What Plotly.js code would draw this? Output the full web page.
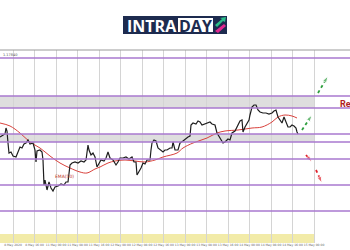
<!DOCTYPE html>
<html><head><meta charset="utf-8">
<script src="https://cdn.plot.ly/plotly-3.0.1.min.js"></script>
<style>html,body{margin:0;padding:0;background:#fff;}#chart{width:350px;height:250px;}</style>
</head><body><div id="chart"></div>
<script>
// time index (hourly bars) and EURUSD-style closes
const barIndex = [0,3,5,6,7,8,9,11,13,16,18,20,22,24,26,28,30,33,35,36,37,40,42,43,44,45,47,49,51,53,55,58,61,64,66,68,70,72,75,78,81,84,86,88,89,91,93,95,97,99,101,104,106,108,110,113,116,118,120,123,126,129,132,134,136,137,139,141,143,145,147,150,151,152,154,156,158,160,163,165,167,170,172,173,175,178,180,183,186,188,190,191,193,196,198,200,202,205,208,210,212,215,217,219,221,223,225,228,230,232,235,238,240,242,243,245,247,249,250,252,254,256,258,260,263,266,269,272,274,276,278,280,282,284,286,288,290,292,294,296,297,298];
const closePrice = [1.1626,1.1630,1.1632,1.1644,1.1638,1.1614,1.1594,1.1596,1.1588,1.1586,1.1596,1.1606,1.1604,1.1612,1.1614,1.1620,1.1612,1.1614,1.1600,1.1576,1.1598,1.1600,1.1596,1.1580,1.1530,1.1540,1.1520,1.1536,1.1524,1.1518,1.1526,1.1528,1.1532,1.1530,1.1536,1.1536,1.1570,1.1574,1.1576,1.1574,1.1578,1.1576,1.1580,1.1610,1.1600,1.1590,1.1594,1.1586,1.1566,1.1574,1.1580,1.1578,1.1584,1.1596,1.1584,1.1580,1.1570,1.1576,1.1584,1.1584,1.1586,1.1582,1.1586,1.1576,1.1576,1.1550,1.1556,1.1564,1.1574,1.1572,1.1580,1.1580,1.1600,1.1614,1.1620,1.1618,1.1604,1.1600,1.1596,1.1600,1.1600,1.1604,1.1604,1.1616,1.1600,1.1600,1.1614,1.1618,1.1624,1.1626,1.1628,1.1650,1.1654,1.1652,1.1658,1.1656,1.1650,1.1652,1.1654,1.1656,1.1652,1.1650,1.1634,1.1628,1.1620,1.1614,1.1616,1.1622,1.1620,1.1634,1.1638,1.1650,1.1658,1.1660,1.1636,1.1646,1.1652,1.1660,1.1670,1.1686,1.1690,1.1690,1.1680,1.1676,1.1674,1.1674,1.1672,1.1674,1.1678,1.1680,1.1666,1.1660,1.1654,1.1666,1.1654,1.1646,1.1646,1.1650,1.1648,1.1644,1.1636,1.1632];
const emaIndex = [0,10,20,30,40,50,60,70,80,87,95,100,108,115,125,135,145,155,163,177,183,193,207,217,225,238,252,262,272,278,285,292,297];
const emaValue = [1.1654,1.1648,1.1634,1.1616,1.1604,1.1588,1.1574,1.1564,1.1556,1.1554,1.1562,1.1566,1.1574,1.1578,1.1580,1.1578,1.1576,1.1580,1.1586,1.1594,1.1604,1.1614,1.1624,1.1634,1.1638,1.1640,1.1644,1.1646,1.1656,1.1666,1.1670,1.1668,1.1664];
// horizontal levels
const levelLines = [1.1784,1.1708,1.1684,1.1632,1.1616,1.1582,1.1530,1.1478];
const greyZones = [[1.1684,1.1708],[1.1616,1.1632]];
const yellowZone = [1.1414,1.1432];
const gridTimes = [13,34.5,56,77.5,99,120.5,142,163.5,185,206.5,228,249.5,271,292.5,314];
const timeLabels = ['8 May 2020','8 May 16:00','11 May 00:00','11 May 08:00','11 May 16:00','12 May 00:00','12 May 08:00','12 May 16:00','13 May 00:00','13 May 08:00','13 May 16:00','14 May 00:00','14 May 08:00','14 May 16:00','15 May 00:00'];
// projected scenario arrows [x0,y0,x1,y1]
const bullArrows = [[302,1.1640,312,1.1670],[318,1.1714,328,1.1748]];
const bearArrows = [[306,1.1590,312,1.1576],[316,1.1560,322,1.1534]];

const traces = [];
traces.push({x:emaIndex,y:emaValue,mode:'lines',line:{color:'#d9413c',width:1,shape:'spline'},hoverinfo:'skip'});
traces.push({x:barIndex,y:closePrice,mode:'lines',line:{color:'#1e1e1e',width:1.2},hoverinfo:'skip'});
function arrowTrace(a,color){
  return {x:[a[0],a[2]],y:[a[1],a[3]],mode:'lines+markers',line:{color:color,width:1.8,dash:'dot'},
    marker:{symbol:'arrow',angleref:'previous',size:[0,7],color:color},hoverinfo:'skip'};
}
bullArrows.forEach(a=>traces.push(arrowTrace(a,'#2e9e3e')));
bearArrows.forEach(a=>traces.push(arrowTrace(a,'#e0202a')));

const shapes = [];
greyZones.forEach(z=>shapes.push({type:'rect',xref:'x',yref:'y',x0:0,x1:314,y0:z[0],y1:z[1],fillcolor:'#dedede',line:{width:0},layer:'below'}));
shapes.push({type:'rect',xref:'x',yref:'y',x0:0,x1:314,y0:yellowZone[0],y1:yellowZone[1],fillcolor:'#f2eba8',line:{width:0},layer:'below'});
levelLines.forEach(v=>shapes.push({type:'line',xref:'paper',yref:'y',x0:0,x1:1,y0:v,y1:v,line:{color:'#a878cf',width:1.4}}));
shapes.push({type:'line',xref:'paper',yref:'paper',x0:0,x1:1,y0:1,y1:1,line:{color:'#9a9a9a',width:1}});
// logo
const px=v=>v/350, py=v=>(243-v)/193;
shapes.push({type:'rect',xref:'paper',yref:'paper',x0:px(123),x1:px(227),y0:py(34),y1:py(16),fillcolor:'#1d2b4f',line:{width:0}});
shapes.push({type:'rect',xref:'paper',yref:'paper',x0:px(178),x1:px(213),y0:py(32),y1:py(18),fillcolor:'#ffffff',line:{width:0}});
shapes.push({type:'path',xref:'paper',yref:'paper',path:`M ${px(215)} ${py(25)} L ${px(222)} ${py(19)} L ${px(220)} ${py(18)} L ${px(226)} ${py(17)} L ${px(225)} ${py(22)} L ${px(223)} ${py(21)} L ${px(217)} ${py(27)} Z`,fillcolor:'#2bbf8a',line:{width:0}});
shapes.push({type:'path',xref:'paper',yref:'paper',path:`M ${px(215)} ${py(31)} L ${px(224)} ${py(24)} L ${px(226)} ${py(26)} L ${px(218)} ${py(33)} Z`,fillcolor:'#e0288f',line:{width:0}});

const annotations = [
  {xref:'paper',yref:'paper',x:px(152),y:py(25.5),text:'<b>INTRA</b>',showarrow:false,font:{family:'Open Sans',size:16,color:'#ffffff'},xanchor:'center',yanchor:'middle'},
  {xref:'paper',yref:'paper',x:px(195.5),y:py(25.5),text:'<b>DAY</b>',showarrow:false,font:{family:'Open Sans',size:16,color:'#1d2b4f'},xanchor:'center',yanchor:'middle'},
  {xref:'paper',yref:'y',x:px(338),y:1.1692,text:'<b>Resistance</b>',showarrow:false,font:{family:'Roboto',size:9,color:'#b01e23'},xanchor:'left',yanchor:'middle'},
  {xref:'x',yref:'y',x:64,y:1.1548,text:'EMA(50)',showarrow:false,font:{family:'DejaVu Sans',size:4.5,color:'#c0392b'},xanchor:'center',yanchor:'middle'},
  {xref:'paper',yref:'paper',x:0.003,y:0.995,text:'1.17840',showarrow:false,font:{family:'DejaVu Sans',size:3.5,color:'#555'},xanchor:'left',yanchor:'top'}
];

const layout = {
  width:350,height:250,margin:{l:0,r:0,t:50,b:7},paper_bgcolor:'#ffffff',plot_bgcolor:'#ffffff',showlegend:false,
  xaxis:{range:[0,350],tickvals:gridTimes,ticktext:timeLabels,showgrid:true,gridcolor:'#d4d4d4',gridwidth:1,zeroline:false,
    showline:false,ticks:'',tickangle:0,tickfont:{family:'DejaVu Sans',size:3,color:'#666'},ticklabelstandoff:-1,fixedrange:true},
  yaxis:{range:[1.1414,1.1800],showgrid:false,zeroline:false,showticklabels:false,ticks:'',fixedrange:true},
  shapes:shapes,annotations:annotations
};
Plotly.newPlot('chart',traces,layout,{displayModeBar:false,staticPlot:true});
</script></body></html>
